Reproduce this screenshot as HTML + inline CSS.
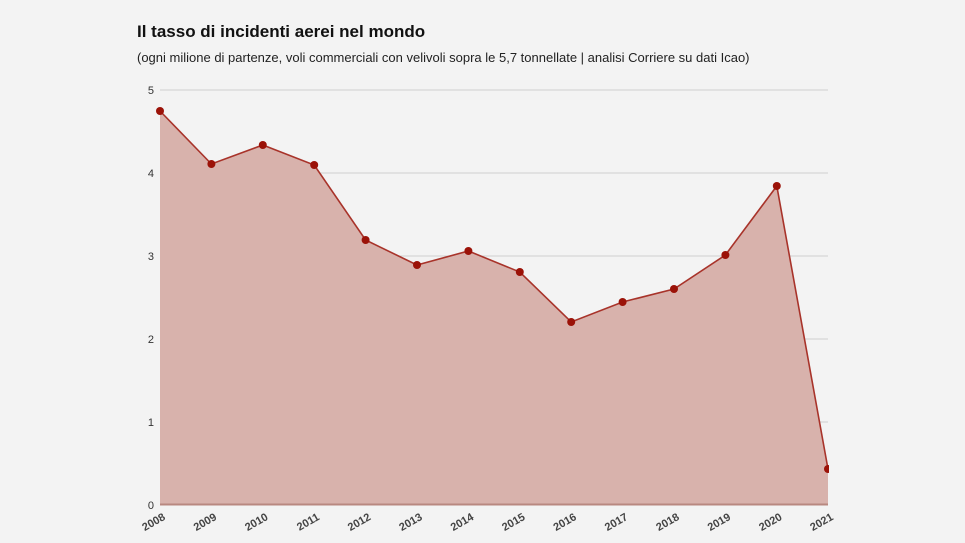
<!DOCTYPE html>
<html><head><meta charset="utf-8"><style>
html,body{margin:0;padding:0;background:#f3f3f3;}
svg{display:block;font-family:"Liberation Sans",sans-serif;}
</style></head><body>
<svg width="965" height="543" viewBox="0 0 965 543">
<rect width="965" height="543" fill="#f3f3f3"/>
<text x="137" y="37" font-size="17" font-weight="bold" fill="#111">Il tasso di incidenti aerei nel mondo</text>
<text x="137" y="62" font-size="13" fill="#222">(ogni milione di partenze, voli commerciali con velivoli sopra le 5,7 tonnellate | analisi Corriere su dati Icao)</text>
<g stroke="#cfcfcf" stroke-width="1">
<line x1="160" y1="90" x2="828" y2="90"/>
<line x1="160" y1="173" x2="828" y2="173"/>
<line x1="160" y1="256" x2="828" y2="256"/>
<line x1="160" y1="339" x2="828" y2="339"/>
<line x1="160" y1="422" x2="828" y2="422"/>
</g>
<g font-size="11" fill="#333" text-anchor="end">
<text x="154" y="94">5</text><text x="154" y="177">4</text><text x="154" y="260">3</text>
<text x="154" y="343">2</text><text x="154" y="426">1</text><text x="154" y="509">0</text>
</g>
<polygon fill="#d8b2ac" points="160,505 160,111 211.4,164 262.8,145 314.2,165 365.6,240 417,265 468.4,251 519.8,272 571.2,322 622.6,302 674,289 725.4,255 776.8,186 828,469 828,505"/>
<line x1="160" y1="504.5" x2="828" y2="504.5" stroke="#b88880" stroke-width="2"/>
<polyline fill="none" stroke="#a8332a" stroke-width="1.6" points="160,111 211.4,164 262.8,145 314.2,165 365.6,240 417,265 468.4,251 519.8,272 571.2,322 622.6,302 674,289 725.4,255 776.8,186 828,469"/>
<g fill="#9b1208">
<circle cx="160" cy="111" r="4"/><circle cx="211.4" cy="164" r="4"/><circle cx="262.8" cy="145" r="4"/><circle cx="314.2" cy="165" r="4"/><circle cx="365.6" cy="240" r="4"/><circle cx="417" cy="265" r="4"/><circle cx="468.4" cy="251" r="4"/><circle cx="519.8" cy="272" r="4"/><circle cx="571.2" cy="322" r="4"/><circle cx="622.6" cy="302" r="4"/><circle cx="674" cy="289" r="4"/><circle cx="725.4" cy="255" r="4"/><circle cx="776.8" cy="186" r="4"/><circle cx="828" cy="469" r="4"/>
</g>
<rect x="829" y="80" width="20" height="440" fill="#f3f3f3"/>
<g font-size="11" font-weight="bold" fill="#444" text-anchor="end">
<text transform="translate(166,519) rotate(-30)">2008</text>
<text transform="translate(217.4,519) rotate(-30)">2009</text>
<text transform="translate(268.8,519) rotate(-30)">2010</text>
<text transform="translate(320.2,519) rotate(-30)">2011</text>
<text transform="translate(371.6,519) rotate(-30)">2012</text>
<text transform="translate(423,519) rotate(-30)">2013</text>
<text transform="translate(474.4,519) rotate(-30)">2014</text>
<text transform="translate(525.8,519) rotate(-30)">2015</text>
<text transform="translate(577.2,519) rotate(-30)">2016</text>
<text transform="translate(628.6,519) rotate(-30)">2017</text>
<text transform="translate(680,519) rotate(-30)">2018</text>
<text transform="translate(731.4,519) rotate(-30)">2019</text>
<text transform="translate(782.8,519) rotate(-30)">2020</text>
<text transform="translate(834,519) rotate(-30)">2021</text>
</g>
</svg>
</body></html>
